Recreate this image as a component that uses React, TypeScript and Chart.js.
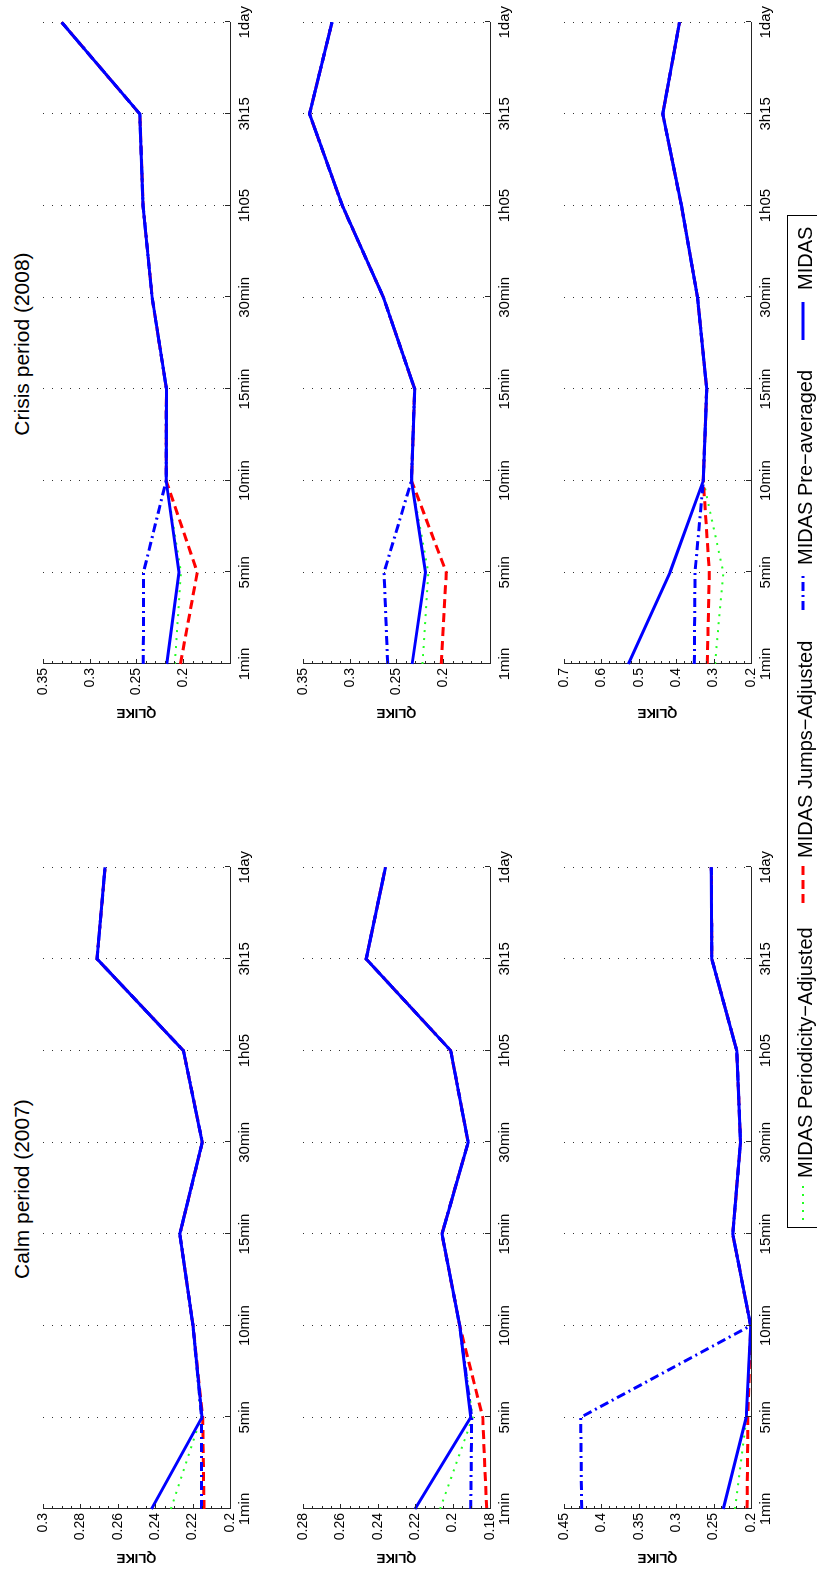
import React, { useEffect, useRef } from 'react';
import { Chart, registerables } from 'chart.js';

Chart.register(...registerables);

const FONT = "'Liberation Sans', Arial, Helvetica, sans-serif";
const AXIS_COLOR = '#262626';

// Sampling frequencies on the horizontal axis
const categories = ['1min', '5min', '10min', '15min', '30min', '1h05', '3h15', '1day'];

// Calm period (2007), top panel
const calmTopMidas = [0.242, 0.215, 0.2198, 0.2268, 0.2148, 0.2249, 0.2711, 0.2668];
const calmTopPreAveraged = [0.2153, 0.2152, 0.2198, 0.2268, 0.2148, 0.2249, 0.2711, 0.2668];
const calmTopJumps = [0.2139, 0.2146, 0.2198, 0.2268, 0.2148, 0.2249, 0.2711, 0.2668];
const calmTopPeriodicity = [0.2316, 0.2155, 0.2198, 0.2268, 0.2148, 0.2249, 0.2711, 0.2668];

// Calm period (2007), middle panel
const calmMidMidas = [0.2201, 0.1903, 0.1962, 0.2057, 0.1917, 0.201, 0.2462, 0.2359];
const calmMidPreAveraged = [0.1903, 0.1898, 0.1962, 0.2057, 0.1917, 0.201, 0.2462, 0.2359];
const calmMidJumps = [0.1818, 0.1839, 0.1962, 0.2057, 0.1917, 0.201, 0.2462, 0.2359];
const calmMidPeriodicity = [0.2067, 0.1893, 0.1962, 0.2057, 0.1917, 0.201, 0.2462, 0.2359];

// Calm period (2007), bottom panel
const calmLowMidas = [0.237, 0.2065, 0.2005, 0.2244, 0.214, 0.219, 0.2524, 0.253];
const calmLowPreAveraged = [0.4264, 0.4277, 0.2005, 0.2244, 0.214, 0.219, 0.2524, 0.253];
const calmLowJumps = [0.2052, 0.2042, 0.2005, 0.2244, 0.214, 0.219, 0.2524, 0.253];
const calmLowPeriodicity = [0.2214, 0.2058, 0.2005, 0.2244, 0.214, 0.219, 0.2524, 0.253];

// Crisis period (2008), top panel
const crisisTopMidas = [0.2177, 0.2045, 0.2183, 0.218, 0.2333, 0.243, 0.2465, 0.33];
const crisisTopPreAveraged = [0.2427, 0.2425, 0.2183, 0.218, 0.2333, 0.243, 0.2465, 0.33];
const crisisTopJumps = [0.203, 0.185, 0.2183, 0.218, 0.2333, 0.243, 0.2465, 0.33];
const crisisTopPeriodicity = [0.209, 0.2025, 0.2183, 0.218, 0.2333, 0.243, 0.2465, 0.33];

// Crisis period (2008), middle panel
const crisisMidMidas = [0.2333, 0.219, 0.234, 0.2306, 0.264, 0.308, 0.343, 0.319];
const crisisMidPreAveraged = [0.2594, 0.2633, 0.234, 0.2306, 0.264, 0.308, 0.343, 0.319];
const crisisMidJumps = [0.2022, 0.1967, 0.234, 0.2306, 0.264, 0.308, 0.343, 0.319];
const crisisMidPeriodicity = [0.2222, 0.216, 0.234, 0.2306, 0.264, 0.308, 0.343, 0.319];

// Crisis period (2008), bottom panel
const crisisLowMidas = [0.528, 0.4166, 0.3275, 0.3185, 0.343, 0.386, 0.436, 0.391];
const crisisLowPreAveraged = [0.3515, 0.3497, 0.3275, 0.3185, 0.343, 0.386, 0.436, 0.391];
const crisisLowJumps = [0.3168, 0.3115, 0.3275, 0.3185, 0.343, 0.386, 0.436, 0.391];
const crisisLowPeriodicity = [0.2963, 0.274, 0.3275, 0.3185, 0.343, 0.386, 0.436, 0.391];

const seriesNames = ['MIDAS Periodicity\u2212Adjusted', 'MIDAS Jumps\u2212Adjusted', 'MIDAS Pre\u2212averaged', 'MIDAS'];
const periodTitles = ['Calm period (2007)', 'Crisis period (2008)'];

type PanelSpec = {
  col: number;
  row: number;
  series: number[][];
  min: number;
  max: number;
  step: number;
  minorDiv: number;
  hideMin?: boolean;
};

const panels: PanelSpec[] = [
  { col: 0, row: 0, series: [calmTopPeriodicity, calmTopJumps, calmTopPreAveraged, calmTopMidas], min: 0.2, max: 0.3, step: 0.02, minorDiv: 4 },
  { col: 0, row: 1, series: [calmMidPeriodicity, calmMidJumps, calmMidPreAveraged, calmMidMidas], min: 0.18, max: 0.28, step: 0.02, minorDiv: 4 },
  { col: 0, row: 2, series: [calmLowPeriodicity, calmLowJumps, calmLowPreAveraged, calmLowMidas], min: 0.2, max: 0.45, step: 0.05, minorDiv: 5 },
  { col: 1, row: 0, series: [crisisTopPeriodicity, crisisTopJumps, crisisTopPreAveraged, crisisTopMidas], min: 0.15, max: 0.35, step: 0.05, minorDiv: 5, hideMin: true },
  { col: 1, row: 1, series: [crisisMidPeriodicity, crisisMidJumps, crisisMidPreAveraged, crisisMidMidas], min: 0.15, max: 0.35, step: 0.05, minorDiv: 5, hideMin: true },
  { col: 1, row: 2, series: [crisisLowPeriodicity, crisisLowJumps, crisisLowPreAveraged, crisisLowMidas], min: 0.2, max: 0.7, step: 0.1, minorDiv: 5 },
];

// Line styles in legend order
const lineStyles = [
  { color: '#22ff22', width: 2, dash: [2, 6] },
  { color: '#ff0000', width: 3, dash: [9, 5] },
  { color: '#0000ff', width: 3, dash: [9, 4, 2, 4] },
  { color: '#0000ff', width: 3, dash: [] as number[] },
];

// Figure geometry (landscape frame, before the page rotation)
const FIG_W = 1570;
const FIG_H = 817;
const COL_LEFT = [61, 906];
const ROW_TOP = [43, 303, 564];
const PLOT_W = 644;
const PLOT_H = 187;
const Y_AXIS_W = 61;
const X_AXIS_H = 40;
const PAD_T = 15;
const PAD_R = 20;

function axisTicks(spec: PanelSpec) {
  return {
    id: 'axisTicks',
    afterDraw(chart: any) {
      const { ctx, chartArea: a } = chart;
      const xs = chart.scales.x;
      const ys = chart.scales.y;
      ctx.save();
      ctx.strokeStyle = AXIS_COLOR;
      ctx.lineWidth = 1;
      ctx.beginPath();
      for (let i = 0; i < xs.ticks.length; i++) {
        const px = Math.round(xs.getPixelForTick(i)) + 0.5;
        ctx.moveTo(px, a.bottom);
        ctx.lineTo(px, a.bottom - 5);
      }
      const minorStep = spec.step / spec.minorDiv;
      const n = Math.round((spec.max - spec.min) / minorStep);
      for (let k = 0; k <= n; k++) {
        const v = spec.min + k * minorStep;
        const py = Math.round(ys.getPixelForValue(v)) + 0.5;
        const len = k % spec.minorDiv === 0 ? 5 : 3;
        ctx.moveTo(a.left, py);
        ctx.lineTo(a.left + len, py);
      }
      ctx.stroke();
      ctx.restore();
    },
  };
}

function Panel({ spec }: { spec: PanelSpec }) {
  const ref = useRef<HTMLCanvasElement>(null);
  const w = Y_AXIS_W + PLOT_W + PAD_R;
  const h = PAD_T + PLOT_H + X_AXIS_H;

  useEffect(() => {
    const canvas = ref.current;
    if (!canvas) return;
    const chart = new Chart(canvas, {
      type: 'line',
      data: {
        labels: categories,
        datasets: spec.series.map((values, i) => ({
          label: seriesNames[i],
          data: values,
          borderColor: lineStyles[i].color,
          backgroundColor: lineStyles[i].color,
          borderWidth: lineStyles[i].width,
          borderDash: lineStyles[i].dash,
          borderCapStyle: 'butt' as const,
          pointRadius: 0,
          tension: 0,
          fill: false,
          order: 3 - i,
        })),
      },
      options: {
        animation: false,
        responsive: false,
        maintainAspectRatio: false,
        devicePixelRatio: 1,
        events: [],
        layout: { padding: { left: 0, top: PAD_T, right: PAD_R, bottom: 0 } },
        plugins: {
          legend: { display: false },
          tooltip: { enabled: false },
          title: { display: false },
        },
        scales: {
          x: {
            type: 'category',
            offset: false,
            grid: { display: true, drawTicks: false, color: '#333', lineWidth: 1 },
            border: { display: true, color: AXIS_COLOR, width: 1, dash: [1, 8] },
            ticks: {
              autoSkip: false,
              maxRotation: 0,
              minRotation: 0,
              padding: 6,
              color: '#000',
              font: { family: FONT, size: 15 },
            },
            afterFit: (s: any) => {
              s.height = X_AXIS_H;
            },
          },
          y: {
            type: 'linear',
            min: spec.min,
            max: spec.max,
            grid: { display: false, drawTicks: false },
            border: { display: true, color: AXIS_COLOR, width: 1 },
            ticks: {
              stepSize: spec.step,
              padding: 4,
              color: '#000',
              font: { family: FONT, size: 14 },
              callback: (value: any) => {
                const v = Number(value);
                if (spec.hideMin && Math.abs(v - spec.min) < 1e-9) return '';
                return String(parseFloat(v.toFixed(3)));
              },
            },
            title: {
              display: true,
              text: 'QLIKE',
              color: '#000',
              font: { family: FONT, size: 13, weight: 'bold' },
              padding: { top: 5, bottom: 0 },
            },
            afterFit: (s: any) => {
              s.width = Y_AXIS_W;
            },
          },
        },
      },
      plugins: [axisTicks(spec)],
    } as any);
    return () => chart.destroy();
  }, [spec]);

  return (
    <canvas
      ref={ref}
      width={w}
      height={h}
      style={{
        position: 'absolute',
        left: COL_LEFT[spec.col] - Y_AXIS_W,
        top: ROW_TOP[spec.row] - PAD_T,
        width: w,
        height: h,
      }}
    />
  );
}

function LegendSample({ index, left }: { index: number; left: number }) {
  const s = lineStyles[index];
  return (
    <svg
      width={38}
      height={10}
      style={{ position: 'absolute', left, top: 10 }}
    >
      <line
        x1={0}
        y1={5}
        x2={38}
        y2={5}
        stroke={s.color}
        strokeWidth={s.width}
        strokeDasharray={s.dash.length ? s.dash.join(' ') : undefined}
      />
    </svg>
  );
}

// Legend item positions inside the legend box: [sample left, text left]
const legendSlots = [
  [7, 49],
  [324, 369],
  [617, 662],
  [887, 937],
];

function Legend() {
  return (
    <div
      style={{
        position: 'absolute',
        left: 342,
        top: 787,
        width: 1013,
        height: 60,
        border: '1px solid #000',
        boxSizing: 'border-box',
        background: '#fff',
      }}
    >
      {seriesNames.map((name, i) => (
        <React.Fragment key={name}>
          <LegendSample index={i} left={legendSlots[i][0]} />
          <span
            style={{
              position: 'absolute',
              left: legendSlots[i][1],
              top: 5,
              fontFamily: FONT,
              fontSize: 20,
              lineHeight: '24px',
              whiteSpace: 'nowrap',
              color: '#000',
            }}
          >
            {name}
          </span>
        </React.Fragment>
      ))}
    </div>
  );
}

export default function App() {
  const titleCenters = [COL_LEFT[0] + PLOT_W / 2 - 2, COL_LEFT[1] + PLOT_W / 2 - 2];
  return (
    <div
      style={{
        position: 'absolute',
        left: 0,
        top: 0,
        width: FIG_H,
        height: FIG_W,
        overflow: 'hidden',
        background: '#fff',
      }}
    >
      <div
        style={{
          position: 'absolute',
          left: 0,
          top: 0,
          width: FIG_W,
          height: FIG_H,
          transformOrigin: '0 0',
          transform: `translateY(${FIG_W}px) rotate(-90deg)`,
          background: '#fff',
          overflow: 'hidden',
        }}
      >
        {periodTitles.map((t, i) => (
          <div
            key={t}
            style={{
              position: 'absolute',
              left: titleCenters[i],
              top: 21,
              transform: 'translate(-50%, -50%)',
              fontFamily: FONT,
              fontSize: 21,
              lineHeight: 1,
              whiteSpace: 'nowrap',
              color: '#000',
            }}
          >
            {t}
          </div>
        ))}
        {panels.map((p) => (
          <Panel key={`${p.col}-${p.row}`} spec={p} />
        ))}
        <Legend />
      </div>
    </div>
  );
}
